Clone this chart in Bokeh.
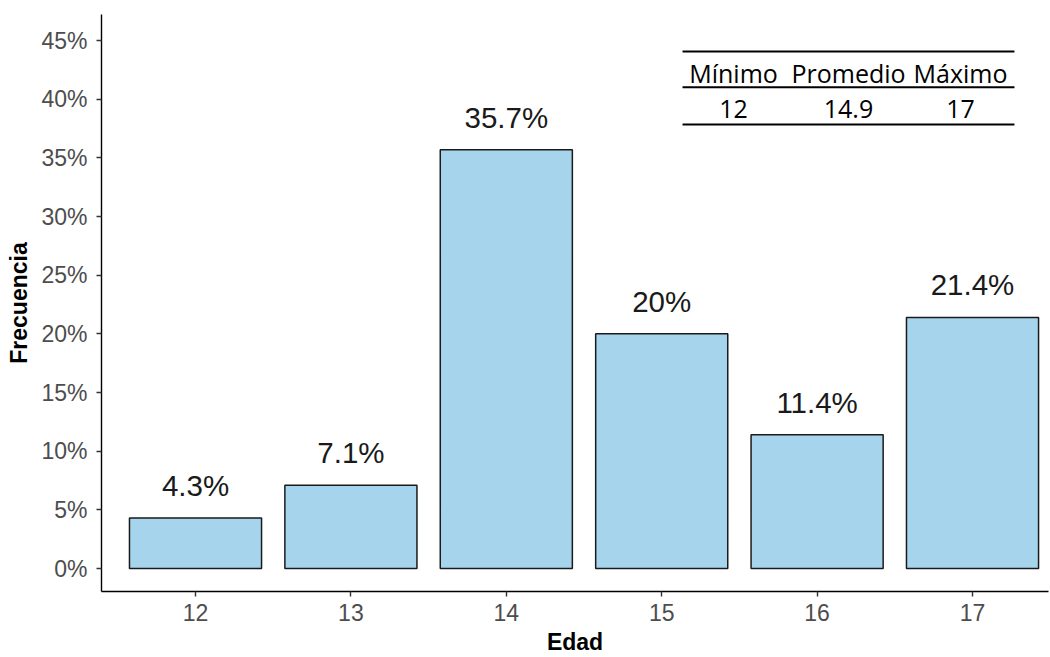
from bokeh.plotting import figure
from bokeh.models import ColumnDataSource, FixedTicker, CustomJSTickFormatter, Range1d, LabelSet
from bokeh.embed import file_html
from bokeh.resources import INLINE
from bokeh.core.properties import value

# Distribución de edades (%)
edades = [12, 13, 14, 15, 16, 17]
frecuencia = [4.3, 7.1, 35.7, 20, 11.4, 21.4]
etiquetas = ["4.3%", "7.1%", "35.7%", "20%", "11.4%", "21.4%"]
y_ticks = [0, 5, 10, 15, 20, 25, 30, 35, 40, 45]

# Tabla resumen
tabla_encabezado = ["Mínimo", "Promedio", "Máximo"]
tabla_valores = ["12", "14.9", "17"]

x_lo, x_hi = 11.395, 17.489
y_lo, y_hi = -1.96, 47.22

src = ColumnDataSource(dict(edad=edades, frec=frecuencia, etiqueta=etiquetas))

p = figure(width=1050, height=657, output_backend="svg", toolbar_location=None,
           x_range=Range1d(x_lo, x_hi), y_range=Range1d(y_lo, y_hi),
           min_border_left=101, min_border_right=2, min_border_top=14, min_border_bottom=64)

p.vbar(x="edad", top="frec", bottom=0, width=0.85, source=src,
       fill_color="#a6d4ec", line_color="#1a1a1a", line_width=1.5)

p.add_layout(LabelSet(x="edad", y="frec", text="etiqueta", source=src,
                      text_align="center", text_baseline="alphabetic", y_offset=22,
                      text_font=value("Liberation Sans"), text_font_size="29.5px",
                      text_color="#1a1a1a"))

# Tabla en la esquina superior derecha
col_x = [15.462, 16.202, 16.923]
tsrc = ColumnDataSource(dict(x=col_x * 2,
                             y=[42.27] * 3 + [39.2] * 3,
                             t=tabla_encabezado + tabla_valores))
p.text(x="x", y="y", text="t", source=tsrc, text_align="center",
       text_baseline="middle", text_font=value("Open Sans"),
       text_font_size="25px", text_color="black")
p.segment(x0=[15.134] * 3, x1=[17.27] * 3, y0=[44.06, 41.02, 37.84],
          y1=[44.06, 41.02, 37.84], line_color="black", line_width=2)

# Ejes
p.xaxis.ticker = FixedTicker(ticks=edades)
p.yaxis.ticker = FixedTicker(ticks=y_ticks)
p.yaxis.formatter = CustomJSTickFormatter(code="return tick + '%';")
p.xaxis.axis_label = "Edad"
p.yaxis.axis_label = "Frecuencia"
for ax in (p.xaxis, p.yaxis):
    ax.axis_line_color = "black"
    ax.axis_line_width = 1.4
    ax.major_tick_line_color = "#333333"
    ax.major_tick_line_width = 1.4
    ax.major_tick_out = 5
    ax.major_tick_in = 0
    ax.minor_tick_line_color = None
    ax.major_label_text_font = "Liberation Sans"
    ax.major_label_text_font_size = "23px"
    ax.major_label_text_color = "#4d4d4d"
    ax.axis_label_text_font = "Liberation Sans"
    ax.axis_label_text_font_size = "23px"
    ax.axis_label_text_font_style = "bold"
    ax.axis_label_text_color = "black"
p.xaxis.major_label_standoff = 7
p.xaxis.axis_label_standoff = 5
p.yaxis.major_label_standoff = 9
p.yaxis.axis_label_standoff = 6

p.xgrid.grid_line_color = None
p.ygrid.grid_line_color = None
p.outline_line_color = None
p.background_fill_color = "white"
p.border_fill_color = "white"

open("out.html", "w").write(file_html(p, INLINE))
